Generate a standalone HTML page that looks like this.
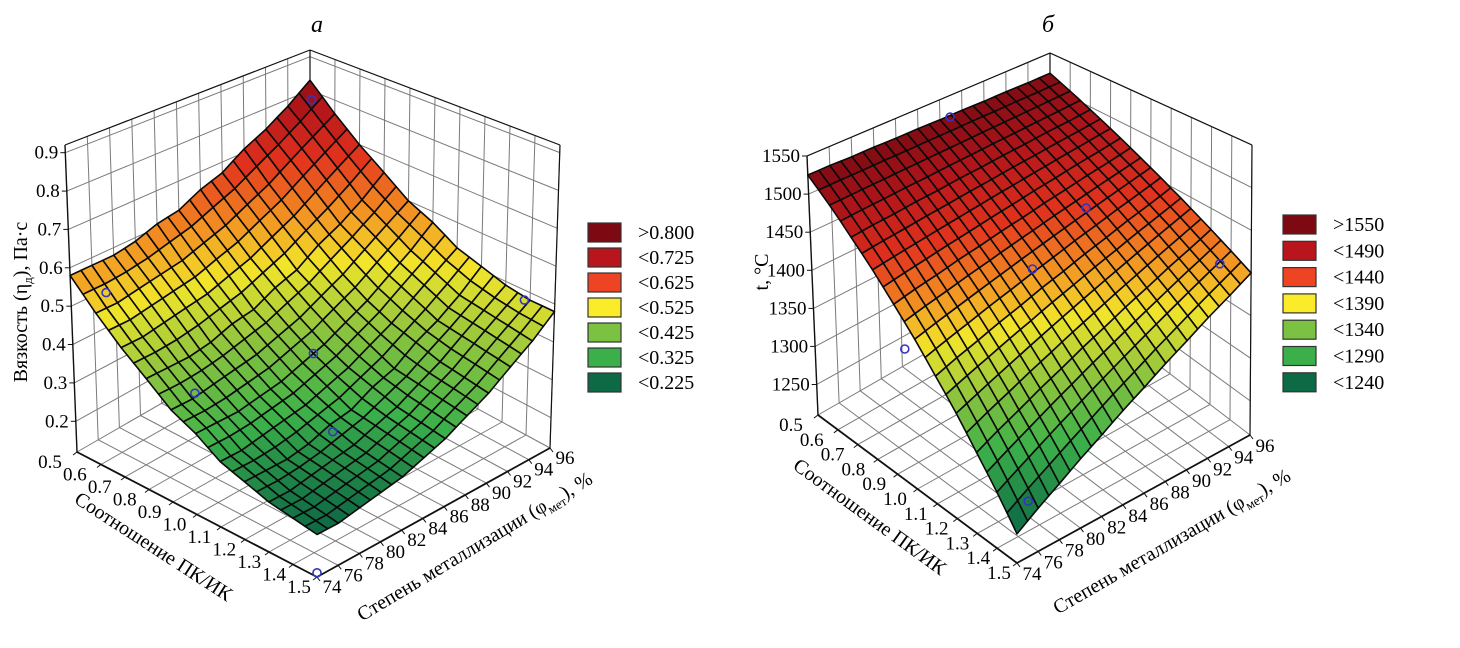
<!DOCTYPE html>
<html><head><meta charset="utf-8">
<style>
html,body{margin:0;padding:0;background:#fff;}
svg, svg text{font-family:"Liberation Serif","DejaVu Serif",serif;}
</style></head>
<body>
<svg id="chart" width="1460" height="643" viewBox="0 0 1460 643" xmlns="http://www.w3.org/2000/svg" font-family="'Liberation Serif', serif">
<text x="317" y="32" font-size="24" font-style="italic" text-anchor="middle">а</text>
<text x="1048" y="32" font-size="24" font-style="italic" text-anchor="middle">б</text>
<g id="pa"></g>
<g id="pb"></g>

<text transform="translate(27,302) rotate(-90)" font-size="20" text-anchor="middle">Вязкость (η<tspan font-size="13" dy="5">д</tspan><tspan dy="-5">), Па·с</tspan></text>
<text transform="translate(150,552) rotate(33)" font-size="20" text-anchor="middle">Соотношение ПК/ИК</text>
<text transform="translate(478,552) rotate(-31)" font-size="20" text-anchor="middle">Степень металлизации (φ<tspan font-size="13" dy="5">мет</tspan><tspan dy="-5">), %</tspan></text>

<text transform="translate(768,272) rotate(-90)" font-size="20" text-anchor="middle">t, °C</text>
<text transform="translate(866,522) rotate(36)" font-size="20" text-anchor="middle">Соотношение ПК/ИК</text>
<text transform="translate(1175,547) rotate(-30)" font-size="20" text-anchor="middle">Степень металлизации (φ<tspan font-size="13" dy="5">мет</tspan><tspan dy="-5">), %</tspan></text>

<g id="lega"></g>
<g id="legb"></g>
</svg>
<script>
// ---------- data: panel a (viscosity) ----------
const ratioValues = [0.5,0.6,0.7,0.8,0.9,1.0,1.1,1.2,1.3,1.4,1.5];
const metValues = [74,76,78,80,82,84,86,88,90,92,94,96];
const viscosityGrid = [
 [0.58,0.58,0.58,0.59,0.61,0.62,0.65,0.67,0.71,0.74,0.78,0.83],
 [0.51,0.51,0.52,0.53,0.54,0.56,0.58,0.61,0.64,0.68,0.72,0.76],
 [0.45,0.45,0.46,0.47,0.48,0.50,0.52,0.55,0.58,0.62,0.66,0.70],
 [0.40,0.40,0.40,0.41,0.43,0.44,0.47,0.49,0.53,0.56,0.60,0.65],
 [0.35,0.35,0.36,0.37,0.38,0.40,0.42,0.45,0.48,0.52,0.56,0.60],
 [0.32,0.32,0.32,0.33,0.34,0.36,0.38,0.41,0.44,0.48,0.52,0.57],
 [0.28,0.28,0.29,0.30,0.31,0.33,0.35,0.38,0.41,0.45,0.49,0.53],
 [0.26,0.26,0.26,0.27,0.29,0.30,0.33,0.35,0.39,0.42,0.46,0.51],
 [0.24,0.24,0.25,0.26,0.27,0.29,0.31,0.34,0.37,0.41,0.45,0.49],
 [0.23,0.23,0.24,0.25,0.26,0.28,0.30,0.33,0.36,0.40,0.44,0.48],
 [0.22,0.22,0.23,0.24,0.25,0.27,0.29,0.32,0.35,0.39,0.43,0.48]
];
const viscosityTicks = [0.2,0.3,0.4,0.5,0.6,0.7,0.8,0.9];
const viscosityLabels = ["0.2","0.3","0.4","0.5","0.6","0.7","0.8","0.9"];
const viscosityPoints = [[0.55,95,0.80],[0.6,75,0.55],[1.0,74,0.42],[1.0,85,0.37],[1.42,95,0.50],[1.3,80,0.33],[1.5,74,0.13]];
const legendALabels = [">0.800","<0.725","<0.625","<0.525","<0.425","<0.325","<0.225"];

// ---------- data: panel b (temperature) ----------
const tempGrid = [
 [1525,1525,1524,1524,1523,1523,1522,1522,1521,1521,1520,1520],
 [1497,1498,1499,1500,1501,1502,1503,1504,1505,1506,1507,1508],
 [1468,1471,1473,1476,1478,1481,1483,1486,1488,1491,1493,1496],
 [1440,1444,1448,1452,1456,1460,1464,1468,1472,1476,1480,1484],
 [1411,1417,1422,1428,1433,1439,1444,1450,1455,1461,1466,1472],
 [1383,1390,1397,1404,1411,1418,1425,1432,1439,1446,1453,1460],
 [1354,1363,1371,1380,1388,1397,1405,1414,1422,1431,1439,1448],
 [1326,1336,1346,1356,1366,1376,1386,1396,1406,1416,1426,1436],
 [1297,1309,1320,1332,1343,1355,1366,1378,1389,1401,1412,1424],
 [1269,1282,1295,1308,1321,1334,1347,1360,1373,1386,1399,1412],
 [1240,1255,1269,1284,1298,1313,1327,1342,1356,1371,1385,1400]
];
const tempTicks = [1250,1300,1350,1400,1450,1500,1550];
const tempLabels = ["1250","1300","1350","1400","1450","1500","1550"];
const tempPoints = [[0.55,86,1532],[1.0,90,1445],[1.0,85,1400],[1.45,94,1415],[0.95,74,1365],[1.45,76,1255]];
const legendBLabels = [">1550","<1490","<1440","<1390","<1340","<1290","<1240"];

const ratioLabels = ["0.5","0.6","0.7","0.8","0.9","1.0","1.1","1.2","1.3","1.4","1.5"];
const metLabels = ["74","76","78","80","82","84","86","88","90","92","94","96"];
const legendColors = ["#7d0a12","#b8161c","#ef4424","#fbec2a","#7cc242","#3bb04a","#0e6a45"];

const NS = "http://www.w3.org/2000/svg";
function mk(tag, attrs, parent){
  const e = document.createElementNS(NS, tag);
  for (const k in attrs) e.setAttribute(k, attrs[k]);
  parent.appendChild(e); return e;
}
function hex(c){return [parseInt(c.substr(1,2),16),parseInt(c.substr(3,2),16),parseInt(c.substr(5,2),16)];}
function colorAt(stops, z){
  if (z <= stops[0][0]) return stops[0][1];
  for (let i=1;i<stops.length;i++){
    if (z <= stops[i][0]){
      const t=(z-stops[i-1][0])/(stops[i][0]-stops[i-1][0]);
      const a=hex(stops[i-1][1]), b=hex(stops[i][1]);
      return "rgb("+a.map((x,k)=>Math.round(x+(b[k]-x)*t)).join(",")+")";
    }
  }
  return stops[stops.length-1][1];
}

function render(g, cfg, rV, mV, grid, zT, zL, pts){
  const rMin=rV[0], rMax=rV[rV.length-1], mMin=mV[0], mMax=mV[mV.length-1];
  function bil(c,u,v){
    return [ (1-u)*(1-v)*c[0][0]+u*(1-v)*c[1][0]+u*v*c[2][0]+(1-u)*v*c[3][0],
             (1-u)*(1-v)*c[0][1]+u*(1-v)*c[1][1]+u*v*c[2][1]+(1-u)*v*c[3][1] ];
  }
  function P(u,v,w){ const f=bil(cfg.F,u,v), t=bil(cfg.T,u,v); return [f[0]+(t[0]-f[0])*w, f[1]+(t[1]-f[1])*w]; }
  const U=r=>(r-rMin)/(rMax-rMin), V=m=>(m-mMin)/(mMax-mMin), W=z=>(z-cfg.zMin)/(cfg.zMax-cfg.zMin);
  function line(a,b,st,sw,name){
    const l=mk("line",{x1:a[0].toFixed(1),y1:a[1].toFixed(1),x2:b[0].toFixed(1),y2:b[1].toFixed(1),stroke:st,"stroke-width":sw},g);
    
    
    return l;
  }
  const gc="#7a7a7a";
  rV.forEach(r=>line(P(U(r),0,0),P(U(r),1,0),gc,1,"floor-gridline"));
  mV.forEach(m=>line(P(0,V(m),0),P(1,V(m),0),gc,1,"floor-gridline"));
  mV.forEach(m=>line(P(0,V(m),0),P(0,V(m),1),gc,1,"wall-gridline"));
  zT.forEach(z=>line(P(0,0,W(z)),P(0,1,W(z)),gc,1,"wall-gridline"));
  rV.forEach(r=>line(P(U(r),1,0),P(U(r),1,1),gc,1,"wall-gridline"));
  zT.forEach(z=>line(P(0,1,W(z)),P(1,1,W(z)),gc,1,"wall-gridline"));
  const ek="#111";
  line(P(0,0,0),P(0,0,1),ek,1.4,"z-axis-line");
  line(P(0,1,0),P(0,1,1),ek,1.2,"box-edge");
  line(P(1,1,0),P(1,1,1),ek,1.2,"box-edge");
  line(P(0,0,1),P(0,1,1),ek,1.2,"box-edge");
  line(P(0,1,1),P(1,1,1),ek,1.2,"box-edge");
  line(P(0,0,0),P(1,0,0),ek,1.8,"x-axis-line");
  line(P(1,0,0),P(1,1,0),ek,1.8,"y-axis-line");
  zT.forEach(z=>{const p=P(0,0,W(z)); line(p,[p[0]-5,p[1]],ek,1,"z-tick");});
  rV.forEach(r=>{const p=P(U(r),0,0); line(p,[p[0]-4,p[1]+3],ek,1,"x-tick");});
  mV.forEach(m=>{const p=P(1,V(m),0); line(p,[p[0]+3,p[1]+4],ek,1,"y-tick");});
  zT.forEach((z,i)=>{const p=P(0,0,W(z));
    const t=mk("text",{x:(p[0]-7).toFixed(1),y:(p[1]+6).toFixed(1),"font-size":19,"text-anchor":"end"},g);
    
    
    t.textContent=zL[i];});
  rV.forEach((r,i)=>{const u=U(r),p=P(u,0,0);
    const t=mk("text",{x:(p[0]-27+9*u).toFixed(1),y:(p[1]+16).toFixed(1),"font-size":19,"text-anchor":"middle"},g);
    
    
    t.textContent=ratioLabels[i];});
  mV.forEach((m,i)=>{const p=P(1,V(m),0);
    const t=mk("text",{x:(p[0]+cfg.mOff[0]).toFixed(1),y:(p[1]+cfg.mOff[1]).toFixed(1),"font-size":19,"text-anchor":"middle"},g);
    
    
    t.textContent=metLabels[i];});
  const nr=rV.length-1, nm=mV.length-1, S=2;
  const facets=[];
  for(let i=0;i<nr;i++) for(let j=0;j<nm;j++){
    const z00=grid[i][j], z10=grid[i+1][j], z11=grid[i+1][j+1], z01=grid[i][j+1];
    const zf=(a,b)=>(1-a)*(1-b)*z00+a*(1-b)*z10+a*b*z11+(1-a)*b*z01;
    for(let a=0;a<S;a++) for(let b=0;b<S;b++){
      const corners=[[a/S,b/S],[(a+1)/S,b/S],[(a+1)/S,(b+1)/S],[a/S,(b+1)/S]];
      const ps=corners.map(([s,t])=>{
        const u=U(rV[i]+(rV[i+1]-rV[i])*s), v=V(mV[j]+(mV[j+1]-mV[j])*t);
        return P(u,v,W(zf(s,t)));
      });
      const uc=(i+(a+0.5)/S)/nr, vc=(j+(b+0.5)/S)/nm;
      facets.push({ps:ps, z:zf((a+0.5)/S,(b+0.5)/S), d:uc-vc});
    }
  }
  facets.sort((x,y)=>x.d-y.d);
  facets.forEach(f=>{
    const poly=mk("polygon",{points:f.ps.map(p=>p[0].toFixed(1)+","+p[1].toFixed(1)).join(" "),fill:colorAt(cfg.stops,f.z),stroke:"#0a0a0a","stroke-width":1.6,"stroke-linejoin":"round"},g);
    
    
  });
  pts.forEach(([r,m,z])=>{const p=P(U(r),V(m),W(z));
    const c=mk("circle",{cx:p[0].toFixed(1),cy:p[1].toFixed(1),r:4,fill:"none",stroke:"#3434c0","stroke-width":1.6},g);
    
    
  });
}

const cfgA={zMin:0.12,zMax:0.92,
  F:[[77,452],[317,577],[550,448],[310,318]],
  T:[[65,145],[318,237],[560,145],[310,50]],
  mOff:[15,16],
  stops:[[0.22,"#0e6a45"],[0.30,"#3bb04a"],[0.40,"#8cc43e"],[0.50,"#f2e52a"],[0.59,"#f28a22"],[0.68,"#e2321e"],[0.77,"#b3161a"],[0.86,"#760a12"]]};
const cfgB={zMin:1210,zMax:1550,
  F:[[818,415],[1017,563],[1250,435],[1050,282]],
  T:[[807,156],[1017,233],[1252,145],[1050,53]],
  mOff:[15,17],
  stops:[[1245,"#0e6a45"],[1295,"#3bb04a"],[1335,"#8cc43e"],[1375,"#f2e52a"],[1410,"#f28a22"],[1445,"#e2321e"],[1485,"#b3161a"],[1530,"#760a12"]]};

render(document.getElementById("pa"),cfgA,ratioValues,metValues,viscosityGrid,viscosityTicks,viscosityLabels,viscosityPoints);
render(document.getElementById("pb"),cfgB,ratioValues,metValues,tempGrid,tempTicks,tempLabels,tempPoints);

function legend(g,x,y0,step,labels){
  labels.forEach((lab,i)=>{
    const y=y0+i*step;
    const r=mk("rect",{x:x,y:y,width:33,height:19,fill:legendColors[i],stroke:"#333","stroke-width":1.2},g);
    
    
    const t=mk("text",{x:x+50,y:y+16,"font-size":20},g);
    
    
    t.textContent=lab;
  });
}
legend(document.getElementById("lega"),588,223,25,legendALabels);
legend(document.getElementById("legb"),1283,215,26.3,legendBLabels);
</script>
</body></html>
